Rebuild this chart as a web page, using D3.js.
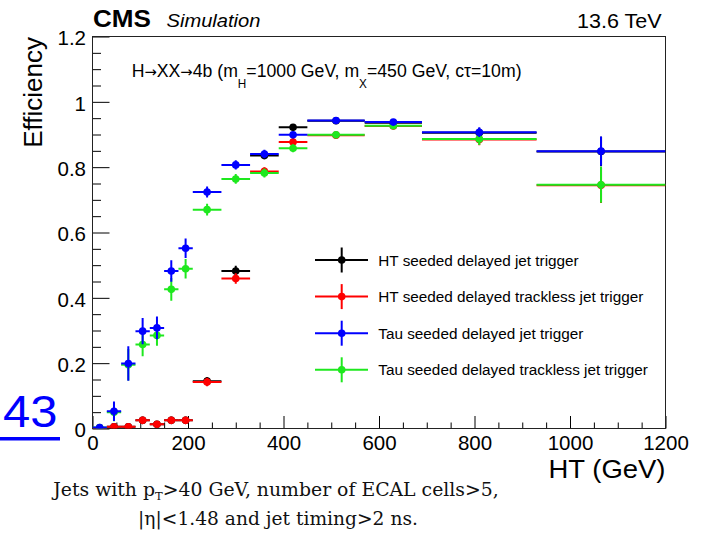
<!DOCTYPE html>
<html>
<head>
<meta charset="utf-8">
<script src="https://cdn.jsdelivr.net/npm/d3@7"></script>
<style>
  body { margin: 0; background: #fff; }
  svg { display: block; }
</style>
</head>
<body>
<div id="chart"></div>
<script>
// HT bins (GeV)
const binLo = [0, 30, 60, 90, 120, 150, 180, 210, 270, 330, 390, 450, 570, 690, 930];
const binHi = [30, 60, 90, 120, 150, 180, 210, 270, 330, 390, 450, 570, 690, 930, 1200];

// efficiencies
const effHtJet        = [0.000, 0.005, 0.005, 0.025, 0.013, 0.025, 0.025, 0.145, 0.482, 0.836, 0.922, 0.942, 0.936, 0.905, 0.848];
const errHtJet        = [0.004, 0.008, 0.008, 0.011, 0.010, 0.011, 0.011, 0.013, 0.016, 0.012, 0.010, 0.006, 0.008, 0.015, 0.045];
const effHtTrackless  = [0.000, 0.005, 0.005, 0.025, 0.013, 0.025, 0.025, 0.142, 0.459, 0.787, 0.877, 0.898, 0.926, 0.885, 0.745];
const errHtTrackless  = [0.004, 0.008, 0.008, 0.011, 0.010, 0.011, 0.011, 0.013, 0.016, 0.013, 0.012, 0.008, 0.010, 0.018, 0.055];
const effTauJet       = [0.003, 0.053, 0.199, 0.298, 0.308, 0.482, 0.552, 0.724, 0.807, 0.840, 0.899, 0.943, 0.938, 0.907, 0.849];
const errTauJet       = [0.005, 0.030, 0.053, 0.040, 0.035, 0.033, 0.030, 0.017, 0.014, 0.013, 0.010, 0.006, 0.008, 0.015, 0.045];
const effTauTrackless = [0.003, 0.050, 0.195, 0.257, 0.285, 0.426, 0.489, 0.670, 0.764, 0.782, 0.858, 0.899, 0.927, 0.886, 0.746];
const errTauTrackless = [0.005, 0.028, 0.048, 0.036, 0.032, 0.035, 0.030, 0.018, 0.015, 0.014, 0.012, 0.008, 0.010, 0.018, 0.055];

const xTicks = [0, 200, 400, 600, 800, 1000, 1200];
const yTicks = [0, 0.2, 0.4, 0.6, 0.8, 1, 1.2];
const yTickLabels = ["0", "0.2", "0.4", "0.6", "0.8", "1", "1.2"];

const legendNames = [
  "HT seeded delayed jet trigger",
  "HT seeded delayed trackless jet trigger",
  "Tau seeded delayed jet trigger",
  "Tau seeded delayed trackless jet trigger"
];

const W = 706, H = 541;
const sans = "'Liberation Sans', Arial, Helvetica, sans-serif";

const svg = d3.select("#chart").append("svg")
    .attr("width", W)
    .attr("height", H);

const x = d3.scaleLinear().domain([0, 1200]).range([92.5, 665.5]);
const y = d3.scaleLinear().domain([0, 1.2]).range([428.5, 36.5]);

// stretch/squeeze a text horizontally around its anchor point
function squeeze(t, width) {
  const bw = t.node().getBBox().width;
  const k = width / bw;
  const x0 = +t.attr("x");
  t.attr("transform", `translate(${x0},0) scale(${k},1) translate(${-x0},0)`);
}

// axes, ticks pointing inwards like ROOT
const xMinor = d3.range(0, 1201, 50).filter(v => v % 200 !== 0);
const yMinor = d3.range(0, 1.2001, 0.05).filter(v => Math.abs(v * 5 - Math.round(v * 5)) > 1e-6);

svg.append("g")
    .attr("transform", `translate(0,${y(0)})`)
    .call(d3.axisBottom(x).tickValues(xMinor).tickSize(-6).tickFormat(""))
    .call(g => g.select(".domain").remove());

svg.append("g")
    .attr("transform", `translate(0,${y(0)})`)
    .call(d3.axisBottom(x).tickValues(xTicks).tickSize(-12.5).tickPadding(7).tickFormat(d3.format("d")))
    .call(g => g.select(".domain").remove())
    .call(g => g.attr("font-family", sans).attr("font-size", 20.5))
    .call(g => g.selectAll("text").attr("fill", "#000"));

svg.append("g")
    .attr("transform", `translate(${x(0)},0)`)
    .call(d3.axisLeft(y).tickValues(yMinor).tickSize(-8.5).tickFormat(""))
    .call(g => g.select(".domain").remove());

svg.append("g")
    .attr("transform", `translate(${x(0)},0)`)
    .call(d3.axisLeft(y).tickValues(yTicks).tickSize(-17).tickPadding(6.5)
      .tickFormat((d, i) => yTickLabels[i]))
    .call(g => g.select(".domain").remove())
    .call(g => g.attr("font-family", sans).attr("font-size", 20.5))
    .call(g => g.selectAll("text").attr("fill", "#000").attr("dy", "0.4em"));

// frame
svg.append("rect")
    .attr("x", x(0)).attr("y", y(1.2))
    .attr("width", x(1200) - x(0)).attr("height", y(0) - y(1.2))
    .attr("fill", "none").attr("stroke", "#222").attr("stroke-width", 1);

// data
svg.append("clipPath").attr("id", "plotclip")
  .append("rect")
    .attr("x", x(0)).attr("y", y(1.2))
    .attr("width", x(1200) - x(0)).attr("height", y(0) - y(1.2));

const series = [
  {name: legendNames[0], values: effHtJet, errors: errHtJet, color: "#000000"},
  {name: legendNames[1], values: effHtTrackless, errors: errHtTrackless, color: "#ff0000"},
  {name: legendNames[2], values: effTauJet, errors: errTauJet, color: "#0000ff"},
  {name: legendNames[3], values: effTauTrackless, errors: errTauTrackless, color: "#1ee81e"}
];
const drawOrder = [0, 1, 3, 2];

const plot = svg.append("g").attr("clip-path", "url(#plotclip)");

drawOrder.forEach(si => {
  const s = series[si];
  const pts = s.values.map((v, i) => ({lo: binLo[i], hi: binHi[i], v: v, e: s.errors[i]}));
  const g = plot.append("g").attr("stroke", s.color).attr("fill", s.color);

  g.selectAll(".hbar").data(pts).join("line")
      .attr("class", "hbar")
      .attr("x1", d => x(d.lo)).attr("x2", d => x(d.hi))
      .attr("y1", d => y(d.v)).attr("y2", d => y(d.v))
      .attr("stroke-width", 2);

  g.selectAll(".vbar").data(pts).join("line")
      .attr("class", "vbar")
      .attr("x1", d => x((d.lo + d.hi) / 2)).attr("x2", d => x((d.lo + d.hi) / 2))
      .attr("y1", d => y(Math.max(0, d.v - d.e))).attr("y2", d => y(d.v + d.e))
      .attr("stroke-width", 2);

  g.selectAll("circle").data(pts).join("circle")
      .attr("cx", d => x((d.lo + d.hi) / 2))
      .attr("cy", d => y(d.v))
      .attr("r", 3.8)
      .attr("stroke", "none");
});

// legend
const legend = svg.append("g").attr("font-family", sans).attr("font-size", 15.3);
series.forEach((s, i) => {
  const ly = 260 + i * 36.6;
  const row = legend.append("g");
  row.append("line").attr("x1", 315).attr("x2", 368).attr("y1", ly).attr("y2", ly)
      .attr("stroke", s.color).attr("stroke-width", 2);
  row.append("line").attr("x1", 341.7).attr("x2", 341.7).attr("y1", ly - 12.5).attr("y2", ly + 12.5)
      .attr("stroke", s.color).attr("stroke-width", 2);
  row.append("circle").attr("cx", 341.7).attr("cy", ly).attr("r", 3.8).attr("fill", s.color);
  row.append("text").attr("x", 378.3).attr("y", ly).attr("dy", "0.36em").attr("fill", "#000")
      .text(s.name);
});

// header texts
const cms = svg.append("text").attr("x", 93).attr("y", 27.5)
    .attr("font-family", sans).attr("font-weight", "bold").attr("font-size", 23).text("CMS");
squeeze(cms, 58);
const sim = svg.append("text").attr("x", 166.5).attr("y", 27.5)
    .attr("font-family", sans).attr("font-style", "italic").attr("font-size", 19).text("Simulation");
squeeze(sim, 94);
const tev = svg.append("text").attr("x", 661.7).attr("y", 28)
    .attr("text-anchor", "end").attr("font-family", sans).attr("font-size", 20.5).text("13.6 TeV");
squeeze(tev, 85);

// process annotation
const arrowFont = "'DejaVu Sans', sans-serif";
const ann = svg.append("text").attr("x", 131.7).attr("y", 77)
    .attr("font-family", sans).attr("font-size", 18);
ann.append("tspan").text("H");
ann.append("tspan").attr("font-family", arrowFont).attr("font-size", 15).text("\u2192");
ann.append("tspan").text("XX");
ann.append("tspan").attr("font-family", arrowFont).attr("font-size", 15).text("\u2192");
ann.append("tspan").text("4b (m");
ann.append("tspan").attr("font-size", 12).attr("dy", 11).text("H");
ann.append("tspan").attr("dy", -11).text("=1000 GeV, m");
ann.append("tspan").attr("font-size", 12).attr("dy", 11).text("X");
ann.append("tspan").attr("dy", -11).text("=450 GeV, c\u03c4=10m)");
squeeze(ann, 390);

// axis titles
svg.append("text")
    .attr("transform", "translate(42,37) rotate(-90)")
    .attr("text-anchor", "end")
    .attr("font-family", sans).attr("font-size", 26)
    .text("Efficiency");

const xt = svg.append("text").attr("x", 665.5).attr("y", 478)
    .attr("text-anchor", "end").attr("font-family", sans).attr("font-size", 26).text("HT (GeV)");
squeeze(xt, 117);

// page number link
const link = svg.append("text").attr("x", 3).attr("y", 426.7)
    .attr("font-family", sans).attr("font-size", 44).attr("fill", "#0000ff").text("43");
squeeze(link, 54.5);
svg.append("rect").attr("x", 0).attr("y", 437).attr("width", 60).attr("height", 3.5).attr("fill", "#0000ff");

// caption below the figure
const serif = "'DejaVu Serif', 'Liberation Serif', serif";
const cap1 = svg.append("text").attr("x", 276).attr("y", 496)
    .attr("text-anchor", "middle").attr("font-family", serif).attr("font-size", 18).attr("fill", "#111");
cap1.append("tspan").text("Jets with p");
cap1.append("tspan").attr("font-size", 11).attr("dy", 4).text("T");
cap1.append("tspan").attr("dy", -4).text(">40 GeV, number of ECAL cells>5,");
squeeze(cap1, 448);

const cap2 = svg.append("text").attr("x", 278).attr("y", 525)
    .attr("text-anchor", "middle").attr("font-family", serif).attr("font-size", 18).attr("fill", "#111")
    .text("|\u03b7|<1.48 and jet timing>2 ns.");
squeeze(cap2, 280);
</script>
</body>
</html>
